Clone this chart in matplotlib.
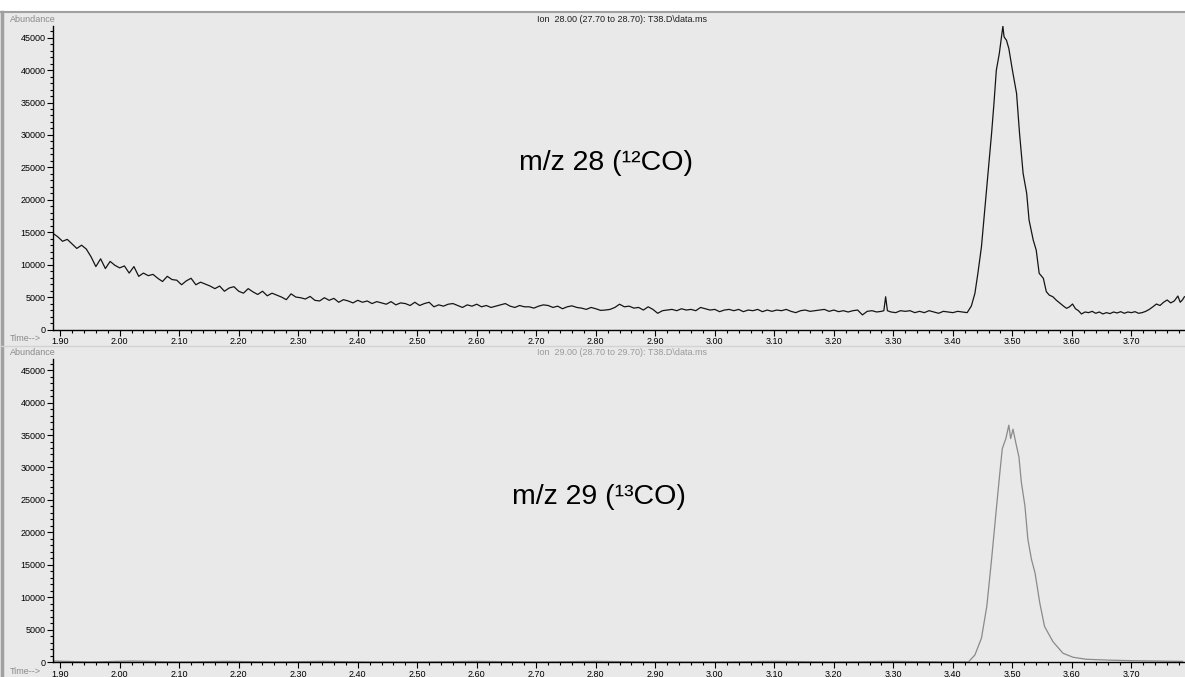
import numpy as np
import matplotlib.pyplot as plt
from matplotlib.ticker import MultipleLocator, FormatStrFormatter
from matplotlib.patches import Rectangle
from matplotlib.lines import Line2D

plt.rcParams['font.family'] = ['Liberation Sans', 'DejaVu Sans']

# ── data (time in min, abundance) ────────────────────────────────────────────
# m/z 28, decaying baseline 1.888 - 2.528
t_28_a = [1.888, 1.896, 1.904, 1.912, 1.920, 1.928, 1.936, 1.944, 1.952, 1.960,
          1.968, 1.976, 1.984, 1.992, 2.000, 2.008, 2.016, 2.024, 2.032, 2.040,
          2.048, 2.056, 2.064, 2.072, 2.080, 2.088, 2.096, 2.104, 2.112, 2.120,
          2.128, 2.136, 2.144, 2.152, 2.160, 2.168, 2.176, 2.184, 2.192, 2.200,
          2.208, 2.216, 2.224, 2.232, 2.240, 2.248, 2.256, 2.264, 2.272, 2.280,
          2.288, 2.296, 2.304, 2.312, 2.320, 2.328, 2.336, 2.344, 2.352, 2.360,
          2.368, 2.376, 2.384, 2.392, 2.400, 2.408, 2.416, 2.424, 2.432, 2.440,
          2.448, 2.456, 2.464, 2.472, 2.480, 2.488, 2.496, 2.504, 2.512, 2.520,
          2.528]
a_28_a = [14820, 14300, 13600, 13900, 13200, 12500, 13000, 12400, 11200, 9700,
          10900, 9400, 10500, 9900, 9500, 9800, 8700, 9700, 8200, 8700,
          8300, 8500, 7900, 7400, 8200, 7700, 7600, 6900, 7500, 7900,
          6900, 7300, 7000, 6700, 6300, 6700, 5900, 6400, 6600, 5900,
          5600, 6300, 5800, 5400, 5900, 5200, 5600, 5300, 5000, 4600,
          5500, 5000, 4900, 4700, 5100, 4500, 4400, 4900, 4500, 4800,
          4200, 4600, 4400, 4100, 4500, 4200, 4400, 4000, 4300, 4100,
          3900, 4300, 3800, 4100, 4000, 3700, 4200, 3700, 4000, 4200,
          3500]
# m/z 28, flat baseline 2.536 - 3.424 (small spike at 3.287)
t_28_b = [2.536, 2.544, 2.552, 2.560, 2.568, 2.576, 2.584, 2.592, 2.600, 2.608,
          2.616, 2.624, 2.632, 2.640, 2.648, 2.656, 2.664, 2.672, 2.680, 2.688,
          2.696, 2.704, 2.712, 2.720, 2.728, 2.736, 2.744, 2.752, 2.760, 2.768,
          2.776, 2.784, 2.792, 2.800, 2.808, 2.816, 2.824, 2.832, 2.840, 2.848,
          2.856, 2.864, 2.872, 2.880, 2.888, 2.896, 2.904, 2.912, 2.920, 2.928,
          2.936, 2.944, 2.952, 2.960, 2.968, 2.976, 2.984, 2.992, 3.000, 3.008,
          3.016, 3.024, 3.032, 3.040, 3.048, 3.056, 3.064, 3.072, 3.080, 3.088,
          3.096, 3.104, 3.112, 3.120, 3.128, 3.136, 3.144, 3.152, 3.160, 3.168,
          3.176, 3.184, 3.192, 3.200, 3.208, 3.216, 3.224, 3.232, 3.240, 3.248,
          3.256, 3.264, 3.272, 3.280, 3.284, 3.287, 3.290, 3.296, 3.304, 3.312,
          3.320, 3.328, 3.336, 3.344, 3.352, 3.360, 3.368, 3.376, 3.384, 3.392,
          3.400, 3.408, 3.416, 3.424]
a_28_b = [3800, 3600, 3900, 4000, 3700, 3400, 3800, 3600, 3900, 3500,
          3700, 3400, 3600, 3800, 4000, 3600, 3400, 3700, 3500, 3500,
          3300, 3600, 3800, 3700, 3400, 3600, 3200, 3500, 3650, 3400,
          3300, 3100, 3400, 3200, 2950, 3000, 3100, 3400, 3900, 3500,
          3600, 3300, 3400, 3000, 3500, 3100, 2500, 2900, 3000, 3100,
          2900, 3200, 3000, 3100, 2900, 3400, 3200, 3000, 3100, 2750,
          3000, 3100, 2900, 3100, 2750, 3000, 2900, 3100, 2750, 3000,
          2800, 3000, 2900, 3100, 2800, 2600, 2900, 3000, 2800, 2900,
          3000, 3100, 2800, 3000, 2750, 2900, 2700, 2900, 3000, 2250,
          2800, 2900, 2700, 2800, 2900, 5050, 2900, 2700, 2600, 2900,
          2800, 2900, 2600, 2800, 2600, 2900, 2700, 2500, 2800, 2700,
          2600, 2800, 2700, 2600]
# m/z 28, CO peak
t_28_c = [3.431, 3.437, 3.442, 3.448, 3.452, 3.456, 3.461, 3.465, 3.469, 3.473,
          3.478, 3.482, 3.484, 3.486, 3.490, 3.494, 3.500, 3.507, 3.512, 3.518,
          3.524, 3.528, 3.535, 3.540, 3.545, 3.552, 3.557]
a_28_c = [3620, 5570, 8660, 12760, 16870, 20990, 26120, 30230, 34850, 39990,
          42560, 45380, 46770, 45120, 44610, 43330, 39990, 36400, 30230, 24070,
          20990, 16870, 13790, 12250, 8660, 7890, 5830]
# m/z 28, tail 3.562 - 3.789
t_28_d = [3.562, 3.568, 3.574, 3.580, 3.586, 3.591, 3.596, 3.601, 3.606, 3.611,
          3.616, 3.622, 3.628, 3.634, 3.640, 3.646, 3.652, 3.658, 3.664, 3.670,
          3.676, 3.682, 3.688, 3.694, 3.700, 3.706, 3.712, 3.718, 3.724, 3.730,
          3.736, 3.742, 3.748, 3.754, 3.760, 3.766, 3.772, 3.778, 3.782, 3.786,
          3.789]
a_28_d = [5300, 5050, 4500, 4040, 3600, 3260, 3500, 3930, 3200, 2900,
          2390, 2700, 2600, 2800, 2500, 2700, 2400, 2600, 2450, 2700,
          2550, 2750, 2500, 2700, 2600, 2750, 2500, 2600, 2800, 3100,
          3500, 3930, 3700, 4200, 4550, 4100, 4400, 5160, 4200, 4600,
          5050]

t_29 = [1.888, 1.950, 2.020, 2.100, 2.180, 2.260, 2.340, 2.420, 2.500, 2.600,
        2.700, 2.800, 2.900, 3.000, 3.100, 3.200, 3.300, 3.400, 3.426, 3.437,
        3.448, 3.457, 3.465, 3.473, 3.479, 3.483, 3.489, 3.494, 3.497, 3.501,
        3.506, 3.511, 3.515, 3.521, 3.526, 3.532, 3.538, 3.546, 3.554, 3.568,
        3.585, 3.602, 3.624, 3.658, 3.702, 3.786]
a_29 = [150, 0, 150, 0, 100, 0, 100, 0, 0, 100,
        0, 100, 0, 0, 100, 0, 100, 0, 0, 1090,
        3680, 8590, 15830, 23590, 29280, 32900, 34450, 36520, 34450, 35900,
        33680, 31610, 27730, 24100, 18930, 15830, 13760, 9110, 5480, 3150,
        1350, 730, 420, 300, 200, 100]

t_28 = t_28_a + t_28_b + t_28_c + t_28_d
a_28 = a_28_a + a_28_b + a_28_c + a_28_d

titles = ["Ion  28.00 (27.70 to 28.70): T38.D\\data.ms",
          "Ion  29.00 (28.70 to 29.70): T38.D\\data.ms"]
labels = ["m/z 28 (\u00b9\u00b2CO)", "m/z 29 (\u00b9\u00b3CO)"]

BG = "#e9e9e9"
fig = plt.figure(figsize=(11.85, 6.77), dpi=100, facecolor=BG)
W, H = 1185, 677

# white strip at the top + frame lines
fig.patches.append(Rectangle((0, 1 - 11 / H), 1, 11 / H, transform=fig.transFigure,
                             facecolor="white", edgecolor="none", zorder=0))
fig.lines.append(Line2D([0, 1], [1 - 12 / H] * 2, transform=fig.transFigure,
                        color="#a0a0a0", lw=1.5))
fig.lines.append(Line2D([0.0015, 0.0015], [0, 1 - 12 / H], transform=fig.transFigure,
                        color="#a0a0a0", lw=2.5))
fig.lines.append(Line2D([0, 1], [1 - 346 / H] * 2, transform=fig.transFigure,
                        color="#d2d2d2", lw=1))

# panel geometry in pixels: (zero line y, top y)
panels = [(329.5, 26), (662, 358.5)]
series = [(t_28, a_28, "#151515"), (t_29, a_29, "#8a8a8a")]
title_col = ["#202020", "#9a9a9a"]
label_pos = [(606, 163), (599, 497)]

for i, ((y0, y1), (t, a, col)) in enumerate(zip(panels, series)):
    ax = fig.add_axes([53 / W, 1 - y0 / H, 1 - 53 / W, (y0 - y1) / H])
    ax.set_facecolor(BG)
    ax.plot(t, a, color=col, lw=0.9)
    ax.set_xlim(1.888, 3.79)
    ax.set_ylim(0, 46800)
    for s in ("top", "right"):
        ax.spines[s].set_visible(False)
    ax.spines["left"].set_linewidth(1.0)
    ax.spines["bottom"].set_linewidth(1.0)
    ax.xaxis.set_major_locator(MultipleLocator(0.1))
    ax.xaxis.set_minor_locator(MultipleLocator(0.02))
    ax.xaxis.set_major_formatter(FormatStrFormatter("%.2f"))
    ax.yaxis.set_major_locator(MultipleLocator(5000))
    ax.yaxis.set_minor_locator(MultipleLocator(1000))
    ax.tick_params(axis="both", which="major", direction="out", length=4,
                   width=0.8, labelsize=6.5, pad=1.5)
    ax.tick_params(axis="both", which="minor", direction="out", length=2, width=0.8)

    # header texts
    fig.text(10 / W, 1 - (y1 - 6) / H, "Abundance", fontsize=6.5, color="#8a8a8a",
             ha="left", va="center")
    fig.text(622 / W, 1 - (y1 - 6) / H, titles[i], fontsize=6.5, color=title_col[i],
             ha="center", va="center")
    fig.text(10 / W, 1 - (y0 + 9) / H, "Time-->", fontsize=6.5, color="#8a8a8a",
             ha="left", va="center")
    lx, ly = label_pos[i]
    fig.text(lx / W, 1 - ly / H, labels[i], fontsize=20.5, color="black",
             ha="center", va="center")

fig.savefig("out.png", dpi=100, facecolor=BG)
